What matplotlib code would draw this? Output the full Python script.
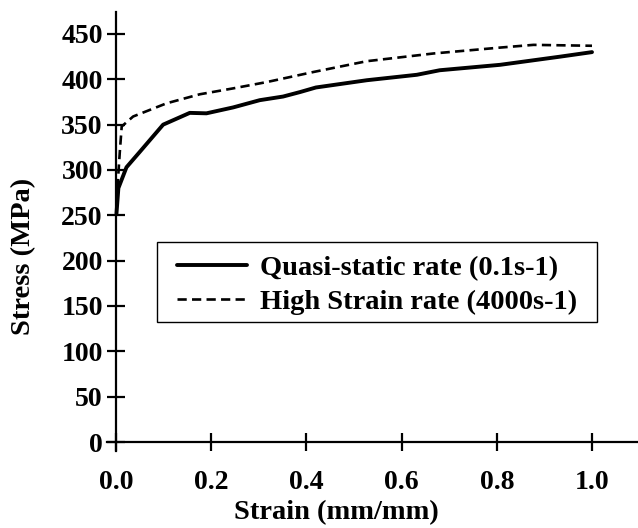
import matplotlib
matplotlib.use("Agg")
import matplotlib.pyplot as plt
from matplotlib.patches import Rectangle

# Quasi-static rate (0.1 s^-1)
qs_strain = [0.001, 0.005, 0.022, 0.05, 0.099, 0.155, 0.19, 0.246, 0.302, 0.351,
             0.387, 0.42, 0.527, 0.632, 0.68, 0.807, 0.933, 1.0]
qs_stress = [252, 280, 303, 320, 350, 363, 362.5, 369, 377, 381,
             386, 391, 399, 405, 410, 416, 425, 430]

# High strain rate (4000 s^-1)
hs_strain = [0.003, 0.008, 0.012, 0.036, 0.106, 0.176, 0.246, 0.317, 0.414,
             0.527, 0.667, 0.807, 0.877, 1.0]
hs_stress = [280, 320, 348, 359, 373.5, 383.5, 390, 397, 408,
             420, 428.5, 435, 438, 437]

x_ticks = [0.0, 0.2, 0.4, 0.6, 0.8, 1.0]
y_ticks = [0, 50, 100, 150, 200, 250, 300, 350, 400, 450]
labels = ["Quasi-static rate (0.1s-1)", "High Strain rate (4000s-1)"]

plt.rcParams['font.family'] = ['Liberation Serif', 'DejaVu Serif']
plt.rcParams['font.weight'] = 'bold'

W, H = 638, 528
fig = plt.figure(figsize=(W/100, H/100), dpi=100)
ax = fig.add_axes([107/W, 77/H, 531/W, 439/H])

ax.plot(qs_strain, qs_stress, color='black', lw=2.8, solid_capstyle='round',
        label=labels[0])
ax.plot(hs_strain, hs_stress, color='black', lw=1.9, linestyle=(0, (3.5, 2)),
        label=labels[1])

ax.set_xlim(-9/476, 531/476 - 9/476)
ax.set_ylim(-9/0.9067, 430/0.9067)

for s in ['top', 'right']:
    ax.spines[s].set_visible(False)
ax.spines['left'].set_position(('data', 0))
ax.spines['bottom'].set_position(('data', 0))
ax.spines['left'].set_linewidth(1.6)
ax.spines['bottom'].set_linewidth(1.6)

ax.set_xticks(x_ticks)
ax.set_xticklabels([f"{v:.1f}" for v in x_ticks])
ax.set_yticks(y_ticks)
ax.set_yticklabels([str(v) for v in y_ticks])
ax.tick_params(axis='both', direction='inout', length=13, width=1.6,
               labelsize=20)
ax.tick_params(axis='x', pad=14)
ax.tick_params(axis='y', pad=3)
for t in ax.get_xticklabels() + ax.get_yticklabels():
    t.set_fontweight('bold')

fig.text(336/W, 1 - 513/H, "Strain (mm/mm)", ha='center', va='center',
         fontsize=20.5, fontweight='bold')
fig.text(23.5/W, 1 - 256/H, "Stress (MPa)", ha='center', va='center',
         rotation=90, fontsize=20.5, fontweight='bold')

# legend frame
fig.patches.append(Rectangle((157/W, 1 - 322/H), (597-157)/W, 80/H,
                             transform=fig.transFigure, fill=False,
                             edgecolor='black', lw=1.0, zorder=5))
leg = ax.legend(loc='center left', bbox_to_anchor=(177/W, 1 - 285/H),
                bbox_transform=fig.transFigure, borderaxespad=0,
                frameon=False, prop={'size': 20.5, 'weight': 'bold'},
                handlelength=2.45, handletextpad=0.45, borderpad=0,
                labelspacing=0.28)

fig.savefig("out.png", dpi=100)
